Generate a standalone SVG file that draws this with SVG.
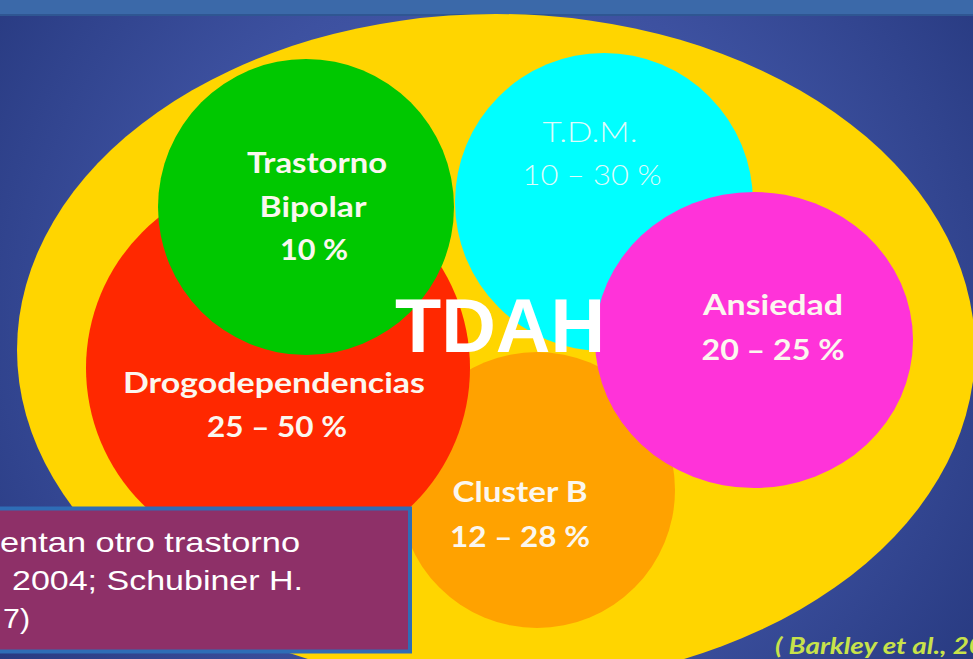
<svg xmlns="http://www.w3.org/2000/svg" width="973" height="659" viewBox="0 0 973 659">
  <defs>
    <radialGradient id="bg" cx="487" cy="320" r="620" gradientUnits="userSpaceOnUse">
      <stop offset="0" stop-color="#5369bb"/>
      <stop offset="0.55" stop-color="#3d51a0"/>
      <stop offset="1" stop-color="#26387e"/>
    </radialGradient>
    <style>
      .lbl { font-family: Lato, "Open Sans", "Liberation Sans", sans-serif; font-weight: bold; font-size: 28px; fill: #fbf7ef; text-anchor: middle; }
      .tdm { font-family: Lato, "Open Sans", "Liberation Sans", sans-serif; font-weight: 300; font-size: 27px; fill: #dcfbfb; text-anchor: middle; }
      .big { font-family: "Liberation Sans", Arial, sans-serif; font-weight: bold; font-size: 76px; fill: #ffffff; text-anchor: middle; }
      .box { font-family: "Liberation Sans", Arial, sans-serif; font-size: 28px; fill: #ffffff; }
      .cite { font-family: Lato, "Open Sans", "Liberation Sans", sans-serif; font-weight: bold; font-style: italic; font-size: 22px; fill: #c8e24a; }
    </style>
  </defs>

  <!-- background -->
  <rect x="0" y="0" width="973" height="659" fill="url(#bg)"/>
  <rect x="0" y="0" width="973" height="15" fill="#3b69a9"/>
  <rect x="0" y="14" width="973" height="2" fill="#2f5692"/>

  <!-- outer TDAH ellipse -->
  <g id="tdah-area">
    <ellipse cx="496" cy="350" rx="479" ry="336" fill="#ffd500"/>
  </g>

  <g id="cluster-b">
    <circle cx="537" cy="490" r="138" fill="#ffa200"/>
    <text class="lbl" x="520" y="502" textLength="135" lengthAdjust="spacingAndGlyphs">Cluster B</text>
    <text class="lbl" x="520" y="547" textLength="140" lengthAdjust="spacingAndGlyphs">12 – 28 %</text>
  </g>

  <g id="drogodependencias">
    <circle cx="278" cy="368" r="192" fill="#ff2800"/>
    <text class="lbl" x="274" y="393" textLength="302" lengthAdjust="spacingAndGlyphs">Drogodependencias</text>
    <text class="lbl" x="277" y="437" textLength="140" lengthAdjust="spacingAndGlyphs">25 – 50 %</text>
  </g>

  <g id="tdm">
    <circle cx="604" cy="202" r="149" fill="#00ffff"/>
    <text class="tdm" x="590" y="142" textLength="95" lengthAdjust="spacingAndGlyphs">T.D.M.</text>
    <text class="tdm" x="592" y="185" textLength="139" lengthAdjust="spacingAndGlyphs">10 – 30 %</text>
  </g>

  <g id="trastorno-bipolar">
    <circle cx="306" cy="207" r="148" fill="#00c800"/>
    <text class="lbl" x="317" y="173" textLength="140" lengthAdjust="spacingAndGlyphs">Trastorno</text>
    <text class="lbl" x="313" y="217" textLength="107" lengthAdjust="spacingAndGlyphs">Bipolar</text>
    <text class="lbl" x="314" y="260" textLength="68" lengthAdjust="spacingAndGlyphs">10 %</text>
  </g>

  <g id="ansiedad">
    <ellipse cx="754" cy="340" rx="159" ry="148" fill="#ff33d9"/>
    <text class="lbl" x="773" y="315" textLength="140" lengthAdjust="spacingAndGlyphs">Ansiedad</text>
    <text class="lbl" x="773" y="360" textLength="143" lengthAdjust="spacingAndGlyphs">20 – 25 %</text>
  </g>

  <g id="tdah-label">
    <text class="big" x="500" y="352" textLength="210" lengthAdjust="spacingAndGlyphs">TDAH</text>
  </g>

  <g id="note-box">
    <rect x="-4" y="508.5" width="414" height="143" fill="#8e3068" stroke="#2e6db6" stroke-width="4"/>
    <text class="box" x="0" y="552" textLength="300" lengthAdjust="spacingAndGlyphs">entan otro trastorno</text>
    <text class="box" x="12" y="590" textLength="291" lengthAdjust="spacingAndGlyphs">2004; Schubiner H.</text>
    <text class="box" x="3" y="628" textLength="27" lengthAdjust="spacingAndGlyphs">7)</text>
  </g>

  <g id="citation">
    <text class="cite" x="775" y="654" textLength="210" lengthAdjust="spacingAndGlyphs">( Barkley et al., 20</text>
  </g>
</svg>
